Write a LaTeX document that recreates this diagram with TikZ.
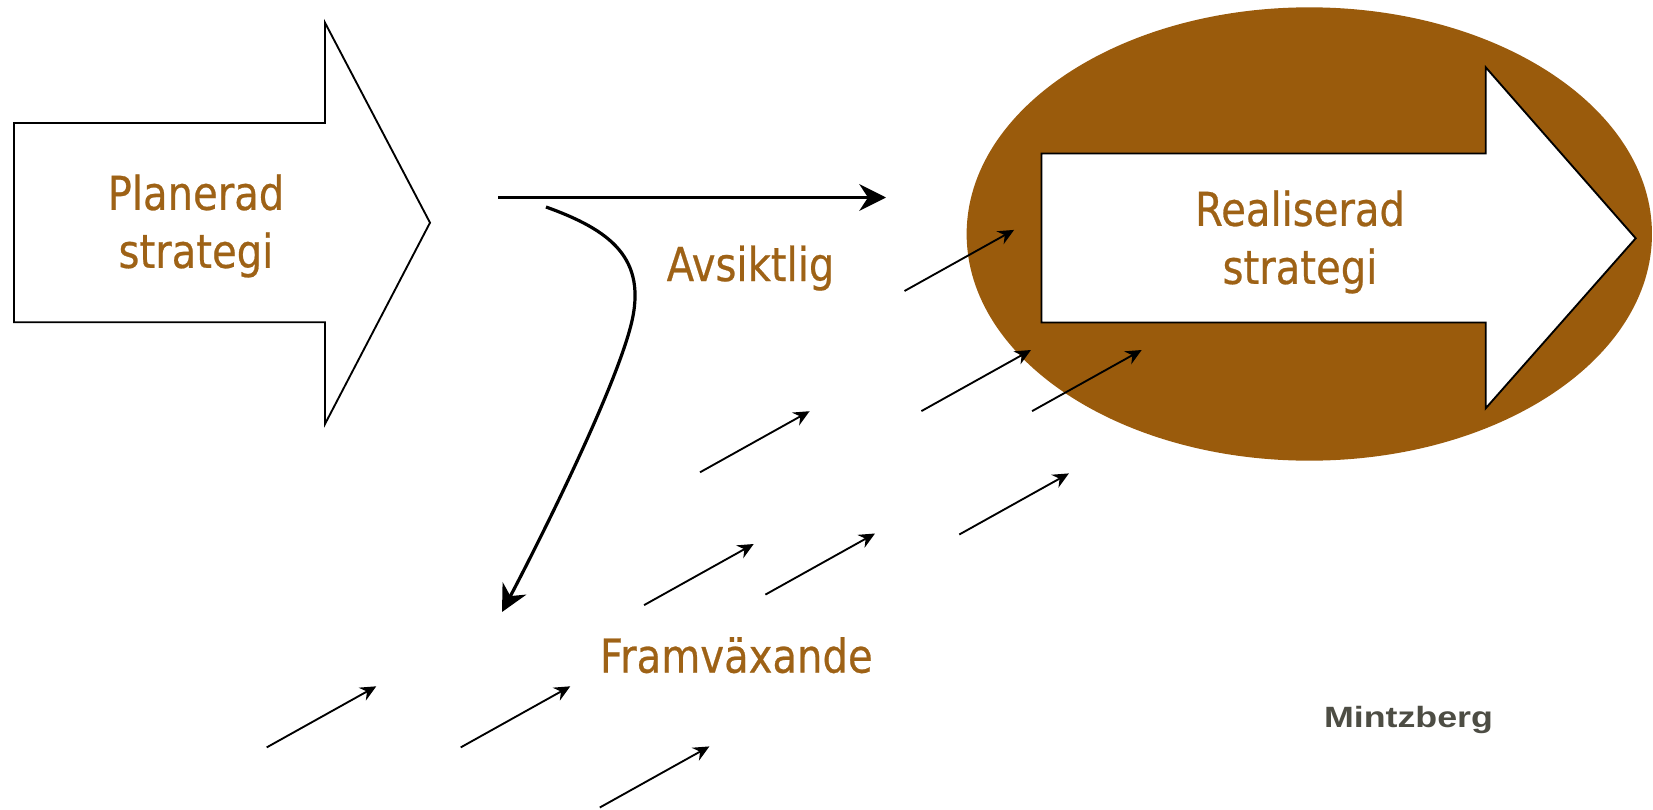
\documentclass[tikz,border=0pt]{standalone}
\usepackage{fontspec}
\usepackage{xcolor}
\usetikzlibrary{arrows.meta}

\newfontfamily\labelfont[FakeStretch=0.86,FakeBold=0.5]{DejaVu Sans}
\newfontfamily\creditfont[FakeStretch=1.22]{Liberation Sans}

\definecolor{ochre}{RGB}{154,91,12}
\definecolor{ochretext}{RGB}{158,98,22}
\definecolor{creditgray}{RGB}{77,77,68}

\tikzset{
  blockarrow/.style={draw=black, fill=white, line width=1.4pt, line join=miter},
  bigarrow/.style={line width=2.4pt, -{Stealth[length=20pt,width=20pt,inset=6.5pt]}},
  smallarrow/.style={line width=1.4pt, -{Stealth[length=12pt,width=11pt,inset=4pt]}},
  labeltext/.style={text=ochretext, inner sep=0pt, font=\labelfont\fontsize{35}{43.5}\selectfont},
  credit/.style={text=creditgray, inner sep=0pt, font=\creditfont\bfseries\fontsize{22}{26}\selectfont}
}

\begin{document}
\begin{tikzpicture}[x=0.75pt,y=0.75pt,yscale=-1,xscale=1]
\useasboundingbox (0,0) rectangle (1653,810);

% realised strategy
\fill [ochre] (1309.3,234) ellipse [x radius=257pt, y radius=170pt];
\draw [blockarrow] (1041.5,153.5) -- (1485.7,153.5) -- (1485.7,67.3) -- (1635.7,238.3) -- (1485.7,408.3) -- (1485.7,322.5) -- (1041.5,322.5) -- cycle ;

% planned strategy
\draw [blockarrow] (14,123) -- (325,123) -- (325,22.7) -- (430,222.7) -- (325,424) -- (325,322.3) -- (14,322.3) -- cycle ;

\node [labeltext, align=center] (planned) at (196,226) {Planerad\\strategi};
\node [labeltext, align=center] (realized) at (1300,242) {Realiserad\\strategi};
\node [labeltext, anchor=base] (deliberate) at (750.5,281) {Avsiktlig};
\node [labeltext, anchor=base] (emergent) at (736.3,672.6) {Framväxande};
\node [credit, anchor=base] (source) at (1408.5,727.7) {Mintzberg};

% deliberate and unrealised paths
\coordinate (planStart) at (498,197.5);
\coordinate (planEnd) at (886,197.5);
\draw [bigarrow] (planStart) -- (planEnd);
\coordinate (driftStart) at (546,207);
\coordinate (driftEnd) at (502,612);
\draw [bigarrow] (driftStart) .. controls (610,230) and (648,258) .. (631,325) .. controls (614,392) and (540,540) .. (driftEnd);

% emergent pushes
\foreach \sx/\sy [count=\i] in {904.5/291, 921.4/411.1, 1032.1/411.1, 700/472.3, 959.3/534.5, 644.1/605.1, 765.4/594.6, 266.7/747.4, 460.7/747.4, 599.8/807.5}{
  \coordinate (push\i) at (\sx,\sy);
  \draw [smallarrow] (push\i) -- ++(109.6,-61.1);
}

\end{tikzpicture}
\end{document}
